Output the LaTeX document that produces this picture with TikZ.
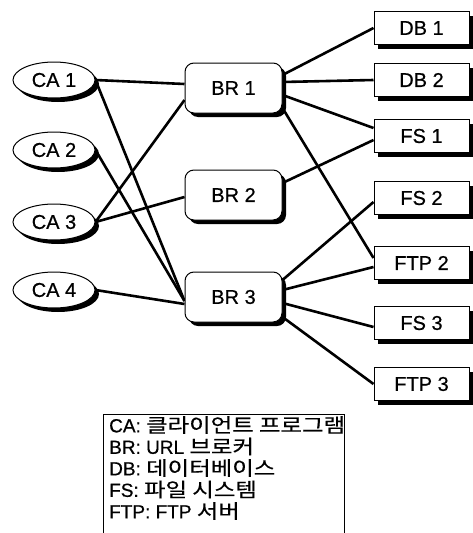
\documentclass[tikz,border=0pt]{standalone}
\usepackage{fontspec}
\setmainfont{Liberation Sans}
\newfontfamily\nf[FakeBold=0.6]{Liberation Sans}
\newfontfamily\kr[FakeStretch=1.2,FakeBold=0.5]{Noto Sans CJK KR}
\usetikzlibrary{shapes.geometric,shadows,backgrounds}
\begin{document}
\begin{tikzpicture}[x=1pt,y=-1pt,
  shad/.style={drop shadow={shadow xshift=4pt,shadow yshift=-4pt,fill=black,opacity=1}},
  nodefont/.style={font=\nf\fontsize{20}{22}\selectfont},
  ca/.style={ellipse,draw,line width=1pt,fill=white,minimum width=82pt,minimum height=36pt,inner sep=0pt,shad,nodefont},
  br/.style={rectangle,rounded corners=9pt,draw,line width=1pt,fill=white,minimum width=97pt,minimum height=50pt,inner sep=0pt,shad,nodefont},
  sv/.style={rectangle,draw,line width=1pt,fill=white,minimum width=95pt,minimum height=33pt,inner sep=0pt,shad,nodefont},
  link/.style={line width=2.6pt},
  legbox/.style={draw,line width=1pt,anchor=north west,minimum width=241pt,minimum height=150pt,inner sep=0pt},
  legtext/.style={anchor=north west,align=left,inner sep=0pt,font=\nf\fontsize{19}{21.5}\selectfont}]
\clip (0,0) rectangle (473,533);
% clients
\node[ca] (ca1) at (54,80) {CA 1};
\node[ca] (ca2) at (54,150) {CA 2};
\node[ca] (ca3) at (54,222) {CA 3};
\node[ca] (ca4) at (54,290) {CA 4};
% brokers
\node[br] (br1) at (233.5,88) {BR 1};
\node[br] (br2) at (233.5,195) {BR 2};
\node[br] (br3) at (233.5,297) {BR 3};
% servers
\node[sv] (db1) at (421.5,28) {DB 1};
\node[sv] (db2) at (421.5,80) {DB 2};
\node[sv] (fs1) at (421.5,136) {FS 1};
\node[sv] (fs2) at (421.5,198) {FS 2};
\node[sv] (ftp2) at (421.5,263) {FTP 2};
\node[sv] (fs3) at (421.5,323) {FS 3};
\node[sv] (ftp3) at (421.5,384) {FTP 3};
% legend
\node[legbox] (leg) at (103,414) {};
\node[legtext] (legt) at (109,416) {CA: {\kr\fontsize{19.5}{21.5}\selectfont 클라이언트 프로그램}\\
BR: URL {\kr\fontsize{19.5}{21.5}\selectfont 브로커}\\
DB: {\kr\fontsize{19.5}{21.5}\selectfont 데이터베이스}\\
FS: {\kr\fontsize{19.5}{21.5}\selectfont 파일 시스템}\\
FTP: FTP {\kr\fontsize{19.5}{21.5}\selectfont 서버}};
\begin{scope}[on background layer]
\draw[link] (ca1.east) -- ([yshift=4pt]br1.west);
\draw[link] (ca1.east) -- ([yshift=-4pt]br3.west);
\draw[link] (ca2.east) -- ([yshift=-4pt]br3.west);
\draw[link] (ca3.east) -- ([yshift=-12pt]br1.west);
\draw[link] (ca3.east) -- ([yshift=-2pt]br2.west);
\draw[link] (ca4.east) -- ([yshift=-7pt]br3.west);
\draw[link] ([yshift=13pt]br1.east) -- (db1.west);
\draw[link] ([yshift=6pt]br1.east) -- (db2.west);
\draw[link] ([yshift=-7pt]br1.east) -- ([yshift=8pt]fs1.west);
\draw[link] ([yshift=-20pt]br1.east) -- ([yshift=5pt]ftp2.west);
\draw[link] ([yshift=12pt]br2.east) -- ([yshift=-4pt]fs1.west);
\draw[link] ([yshift=17pt]br3.east) -- ([yshift=-4pt]fs2.west);
\draw[link] ([yshift=7pt]br3.east) -- ([yshift=-4pt]ftp2.west);
\draw[link] ([yshift=-6pt]br3.east) -- ([yshift=-4pt]fs3.west);
\draw[link] ([yshift=-20pt]br3.east) -- (ftp3.west);
\end{scope}
\end{tikzpicture}
\end{document}
